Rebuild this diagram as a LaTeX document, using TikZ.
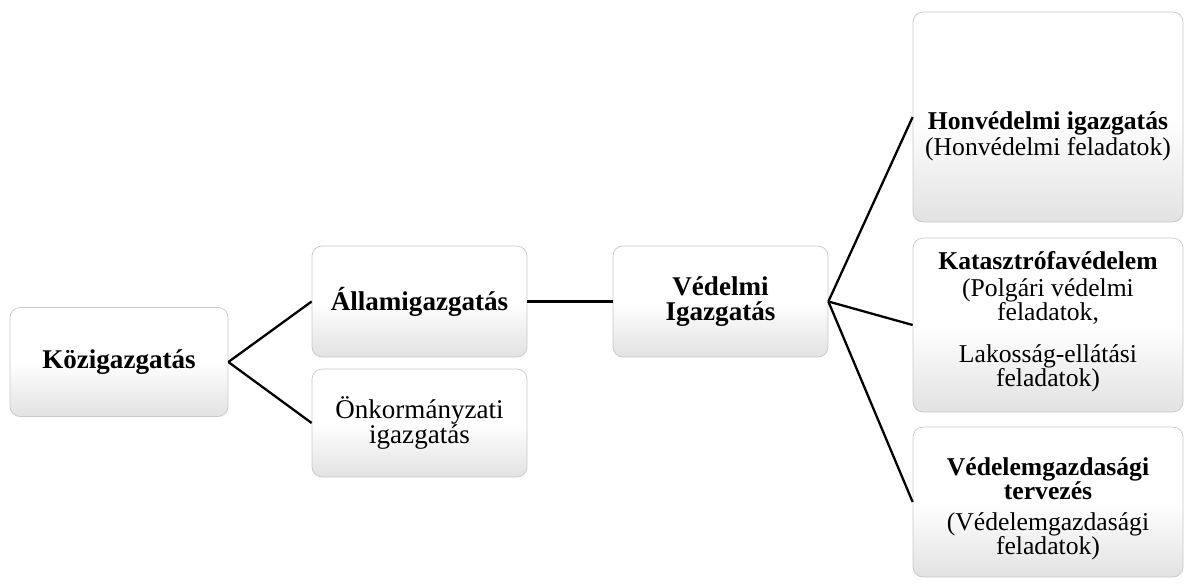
\documentclass[tikz,border=0pt]{standalone}
\usepackage{fontspec}
\setmainfont{Liberation Serif}
\usepackage{xcolor}
\definecolor{boxEdge}{RGB}{200, 200, 200}
\definecolor{boxShade}{RGB}{226, 226, 226}

\begin{document}
\begin{tikzpicture}[x=0.02cm, y=-0.02cm,
    box/.style={draw=boxEdge, rounded corners=0.2cm, top color=white, bottom color=boxShade, middle color=white,
      align=center, inner sep=2pt, font=\fontsize{15.4}{14.6}\selectfont},
    txt/.style={align=center, inner sep=0pt, font=\fontsize{14.6}{13.8}\selectfont},
    link/.style={line width=1.3pt, black}]
  \useasboundingbox (0,0) rectangle (1186,585);
  % left column
  \node[box, minimum width=218*0.02cm, minimum height=109*0.02cm] (koz) at (119,362) {\textbf{Közigazgatás}};
  % middle column
  \node[box, minimum width=215*0.02cm, minimum height=111*0.02cm] (allam) at (419.5,301.5) {\textbf{Államigazgatás}};
  \node[box, minimum width=215*0.02cm, minimum height=108*0.02cm] (onkorm) at (419.5,423) {Önkormányzati\\igazgatás};
  \node[box, minimum width=215*0.02cm, minimum height=111*0.02cm] (vedelmi) at (720.5,301.5) {\textbf{Védelmi}\\\textbf{Igazgatás}};
  % right column
  \node[box, minimum width=270*0.02cm, minimum height=210*0.02cm] (honved) at (1048,117) {};
  \node[txt] (honvedtxt) at ([yshift=-0.38cm]honved.center) {\textbf{Honvédelmi igazgatás}\\[1pt](Honvédelmi feladatok)};
  \node[box, minimum width=270*0.02cm, minimum height=174*0.02cm] (katasz) at (1048,325) {};
  \node[txt] (kataszttxt) at ([yshift=0.06cm]katasz.center) {\textbf{Katasztrófavédelem}\\[1.5pt](Polgári védelmi\\feladatok,\\[10pt]Lakosság-ellátási\\feladatok)};
  \node[box, minimum width=270*0.02cm, minimum height=150*0.02cm] (vedgazd) at (1048,502) {};
  \node[txt] (vedgazdtxt) at ([yshift=-0.14cm]vedgazd.center) {\textbf{Védelemgazdasági}\\\textbf{tervezés}\\[3.5pt](Védelemgazdasági\\feladatok)};
  % connectors
  \draw[link] (koz.east) -- (allam.west);
  \draw[link] (koz.east) -- (onkorm.west);
  \draw[link] (allam.east) -- (vedelmi.west);
  \draw[link] (vedelmi.east) -- (honved.west);
  \draw[link] (vedelmi.east) -- (katasz.west);
  \draw[link] (vedelmi.east) -- (vedgazd.west);
\end{tikzpicture}
\end{document}
